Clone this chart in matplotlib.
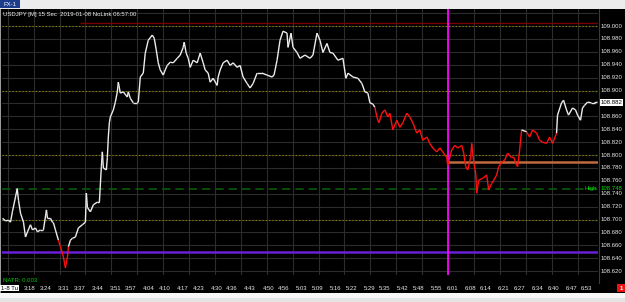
import numpy as np
import matplotlib
matplotlib.use('Agg')
import matplotlib.pyplot as plt
from matplotlib.collections import LineCollection
from matplotlib.patches import Rectangle

plt.rcParams['font.family'] = ['Liberation Sans Narrow', 'Liberation Sans', 'DejaVu Sans']

W, H = 625, 302

# minutes after 03:00, 15 sec chart
minutes = [
    7.40, 8.56, 9.71, 10.48, 11.25, 12.41, 13.07, 13.57, 14.34, 15.49,
    16.27, 17.04, 18.19, 18.96, 20.12, 20.89, 22.05, 23.20, 24.36, 24.74,
    25.90, 26.67, 27.06, 27.83, 28.98, 29.75, 30.52, 30.91, 31.68, 32.45,
    32.84, 33.61, 34.38, 35.54, 36.69, 38.23, 39.39, 39.77, 40.16, 41.32,
    42.47, 44.01, 44.78, 45.56, 45.94, 46.33, 47.48, 47.87, 48.25, 48.64,
    49.02, 50.18, 50.95, 51.72, 52.11, 52.88, 54.03, 55.58, 55.96, 56.73,
    57.89, 59.43, 59.82, 60.59, 61.74, 62.51, 63.67, 65.21, 65.98, 66.75,
    67.52, 68.29, 69.45, 70.22, 70.99, 72.15, 73.30, 74.85, 76.00, 77.16,
    77.54, 78.31, 79.09, 79.86, 81.01, 82.55, 83.71, 84.87, 85.64, 86.79,
    87.56, 88.72, 90.26, 90.65, 91.42, 92.57, 94.12, 95.27, 96.43, 97.97,
    99.13, 100.28, 101.82, 102.98, 104.14, 105.68, 107.61, 109.53, 111.46, 112.23,
    113.39, 114.54, 115.70, 117.24, 117.63, 118.78, 119.55, 121.09, 122.25, 124.18,
    126.10, 127.26, 128.80, 129.96, 131.11, 132.66, 133.81, 134.97, 136.90, 138.82,
    139.98, 140.75, 142.68, 144.60, 146.14, 147.30, 148.46, 149.23, 150.38, 151.16,
    151.93, 152.70, 153.85, 155.01, 156.17, 156.94, 158.09, 159.63, 160.79, 161.95,
    163.49, 164.64, 165.80, 167.34, 168.50, 169.65, 171.20, 172.35, 173.51, 175.05,
    176.21, 177.36, 178.90, 179.29, 180.83, 181.99, 183.14, 184.69, 185.46, 186.23,
    187.00, 188.16, 188.54, 189.31, 190.08, 190.47, 191.24, 192.78, 194.32, 195.09,
    196.25, 197.02, 198.17, 198.94, 200.10, 201.26, 202.41, 203.95, 204.72, 205.88,
    206.27, 207.04, 207.81, 209.74, 210.89, 212.05, 213.59, 214.75, 215.90, 217.45,
    218.60, 219.76, 221.30, 221.68, 223.23, 224.00, 225.15, 225.92, 227.47, 228.62,
    229.40, 230.55, 231.32, 232.10, 233.25, 234.79, 235.95, 237.10,
]

prices = [
    108.702, 108.698, 108.699, 108.696, 108.713, 108.735, 108.748, 108.730, 108.710, 108.696,
    108.673, 108.681, 108.692, 108.684, 108.687, 108.681, 108.684, 108.684, 108.715, 108.702,
    108.702, 108.696, 108.695, 108.684, 108.668, 108.658, 108.648, 108.642, 108.625, 108.642,
    108.658, 108.668, 108.671, 108.673, 108.687, 108.692, 108.696, 108.741, 108.719, 108.712,
    108.723, 108.727, 108.726, 108.782, 108.805, 108.780, 108.777, 108.796, 108.828, 108.850,
    108.859, 108.870, 108.882, 108.898, 108.913, 108.896, 108.898, 108.890, 108.898, 108.888,
    108.881, 108.881, 108.882, 108.921, 108.927, 108.958, 108.978, 108.986, 108.981, 108.963,
    108.943, 108.932, 108.924, 108.932, 108.939, 108.944, 108.943, 108.950, 108.955, 108.967,
    108.975, 108.958, 108.950, 108.936, 108.947, 108.943, 108.958, 108.943, 108.932, 108.927,
    108.913, 108.919, 108.908, 108.921, 108.932, 108.943, 108.947, 108.939, 108.943, 108.936,
    108.939, 108.921, 108.911, 108.904, 108.911, 108.927, 108.927, 108.924, 108.921, 108.924,
    108.947, 108.978, 108.992, 108.989, 108.967, 108.989, 108.967, 108.959, 108.950, 108.955,
    108.950, 108.955, 108.989, 108.978, 108.959, 108.973, 108.959, 108.958, 108.947, 108.950,
    108.919, 108.927, 108.921, 108.919, 108.911, 108.898, 108.896, 108.881, 108.879, 108.874,
    108.859, 108.850, 108.865, 108.870, 108.859, 108.865, 108.839, 108.854, 108.843, 108.850,
    108.865, 108.859, 108.850, 108.834, 108.839, 108.823, 108.828, 108.818, 108.811, 108.805,
    108.811, 108.805, 108.796, 108.784, 108.808, 108.815, 108.811, 108.815, 108.803, 108.782,
    108.777, 108.797, 108.818, 108.789, 108.772, 108.741, 108.761, 108.764, 108.769, 108.746,
    108.756, 108.761, 108.769, 108.782, 108.789, 108.792, 108.803, 108.796, 108.797, 108.784,
    108.782, 108.808, 108.839, 108.836, 108.828, 108.839, 108.834, 108.823, 108.820, 108.818,
    108.828, 108.818, 108.834, 108.862, 108.881, 108.885, 108.870, 108.862, 108.873, 108.870,
    108.862, 108.854, 108.873, 108.877, 108.882, 108.881, 108.881, 108.882,
]

# stretches drawn in red (minutes after 03:00)
red_spans = [(28.9, 32.9), (151.1, 207.9), (209.7, 221.3)]

tick_labels = ['3:18', '3:24', '3:31', '3:37', '3:44', '3:51', '3:57', '4:04', '4:10',
               '4:17', '4:23', '4:30', '4:36', '4:43', '4:50', '4:56', '5:03', '5:09',
               '5:16', '5:22', '5:29', '5:35', '5:42', '5:48', '5:55', '6:01', '6:08',
               '6:14', '6:21', '6:27', '6:34', '6:40', '6:47', '6:53']

price_ticks = [109.000, 108.980, 108.960, 108.940, 108.920, 108.900, 108.860, 108.840,
               108.820, 108.800, 108.780, 108.760, 108.740, 108.720, 108.700, 108.680,
               108.660, 108.640, 108.620]

last_price = 108.882
high_level = 108.748
support_level = 108.650
orange_level = 108.789
red_level = 109.005
dotted_levels = [109.0, 108.9, 108.8, 108.7]
vline_minute = 179.5

fs = 4.3
fig = plt.figure(figsize=(W / 100, H / 100), dpi=100)
fig.patch.set_facecolor('black')

# main pane: pixels x 2..598, y 9..275
ax = fig.add_axes([2 / W, (H - 275) / H, 596 / W, 266 / H])
ax.set_facecolor('black')
ax.set_xlim(7.2, 237.3)
ax.set_ylim(108.6141, 109.0264)
for s in ax.spines.values():
    s.set_visible(False)
ax.set_xticks([])
ax.set_yticks([])

# grid
for p in np.arange(108.60, 109.03, 0.02):
    ax.axhline(p, color='#2c2c2c', lw=0.8, zorder=1)
for m in np.arange(9.4, 240, 10):
    ax.axvline(m, color='#2c2c2c', lw=0.8, zorder=1)
for p in dotted_levels:
    ax.axhline(p, color='#8c8c00', lw=0.8, ls=(0, (1, 2)), zorder=2)

ax.hlines(red_level, 7.2 + (78 / 596) * 230.1, 237.3, color='#7a0000', lw=1, zorder=2)
ax.axhline(support_level, color='#6a1fd6', lw=1.8, zorder=2)
ax.hlines(orange_level, vline_minute, 237.3, color='#c06a3e', lw=1.8, zorder=2)
ax.axhline(high_level, color='#0a5a0a', lw=1.2, ls=(0, (5, 3)), zorder=2)
ax.axvline(vline_minute, color='#ff00ff', lw=1.3, zorder=3)

# price line
pts = np.column_stack([minutes, prices])
segs = np.stack([pts[:-1], pts[1:]], axis=1)
mids = (pts[:-1, 0] + pts[1:, 0]) / 2
cols = []
for m in mids:
    red = any(a <= m <= b for a, b in red_spans)
    cols.append('#ff1010' if red else '#ececec')
ax.add_collection(LineCollection(segs, colors=cols, linewidths=1.0, zorder=4))

# right price scale
yt = ax.get_yaxis_transform()
for p in price_ticks:
    ax.text(1.004, p, f'{p:.3f}', transform=yt, color='#e8e8e8', fontsize=fs,
            va='center', ha='left')
ax.text(1.004, last_price, f'{last_price:.3f}', transform=yt, color='black', fontsize=fs,
        va='center', ha='left',
        bbox=dict(boxstyle='square,pad=0.15', fc='white', ec='none'))
ax.text(1.004, high_level, f'{high_level:.3f}', transform=yt, color='#00dd00', fontsize=fs,
        va='center', ha='left')
ax.text(0.977, high_level, 'High', transform=yt, color='#00dd00', fontsize=fs,
        va='center', ha='left', zorder=5)

# separator of price scale
fig.add_artist(plt.Line2D([598.5 / W, 598.5 / W], [(H - 283) / H, (H - 9) / H],
                          color='#3a3a3a', lw=0.8))

# x labels
xt = ax.get_xaxis_transform()
for lab in tick_labels:
    h, mm = lab.split(':')
    pos = (int(h) - 3) * 60 + int(mm)
    ax.text(pos, -0.049, lab, transform=xt, color='#e8e8e8', fontsize=fs,
            va='center', ha='center')
fig.text(1 / W, 1 - 288 / H, '1-8 Tu', color='black', fontsize=fs, va='center', ha='left',
         bbox=dict(boxstyle='square,pad=0.12', fc='white', ec='none'))

# header and indicator text
fig.text(3 / W, 1 - 14.5 / H, 'USDJPY [M] 15 Sec  2019-01-08 NoLink 06:57:00',
         color='#f0f0f0', fontsize=fs, va='center', ha='left')
fig.text(3 / W, 1 - 280 / H, 'NATR: 0.003', color='#00cc00', fontsize=fs,
         va='center', ha='left')

# window chrome
fig.add_artist(Rectangle((0, 1 - 9 / H), 1, 9 / H, transform=fig.transFigure,
                         fc='#ececec', ec='none'))
fig.add_artist(Rectangle((0, 1 - 8 / H), 20 / W, 8 / H, transform=fig.transFigure,
                         fc='#1c3c8c', ec='none'))
fig.text(10 / W, 1 - 4.5 / H, 'FX-1', color='white', fontsize=fs, va='center', ha='center')
fig.add_artist(Rectangle((0, 0), 1, 9 / H, transform=fig.transFigure,
                         fc='#e4e4e4', ec='none'))
fig.add_artist(Rectangle((0, 4 / H), 1, 5 / H, transform=fig.transFigure,
                         fc='#f8f8f8', ec='none'))
fig.add_artist(Rectangle((0, 9 / H), 1.5 / W, 1 - 18 / H, transform=fig.transFigure,
                         fc='#9a9a9a', ec='none'))
fig.add_artist(Rectangle((617 / W, 1 - 292 / H), 8 / W, 8 / H, transform=fig.transFigure,
                         fc='#ee1111', ec='none'))
fig.text(621 / W, 1 - 288 / H, '1', color='white', fontsize=fs, va='center', ha='center',
         fontweight='bold')

fig.savefig('out.png', dpi=100, facecolor=fig.get_facecolor())
